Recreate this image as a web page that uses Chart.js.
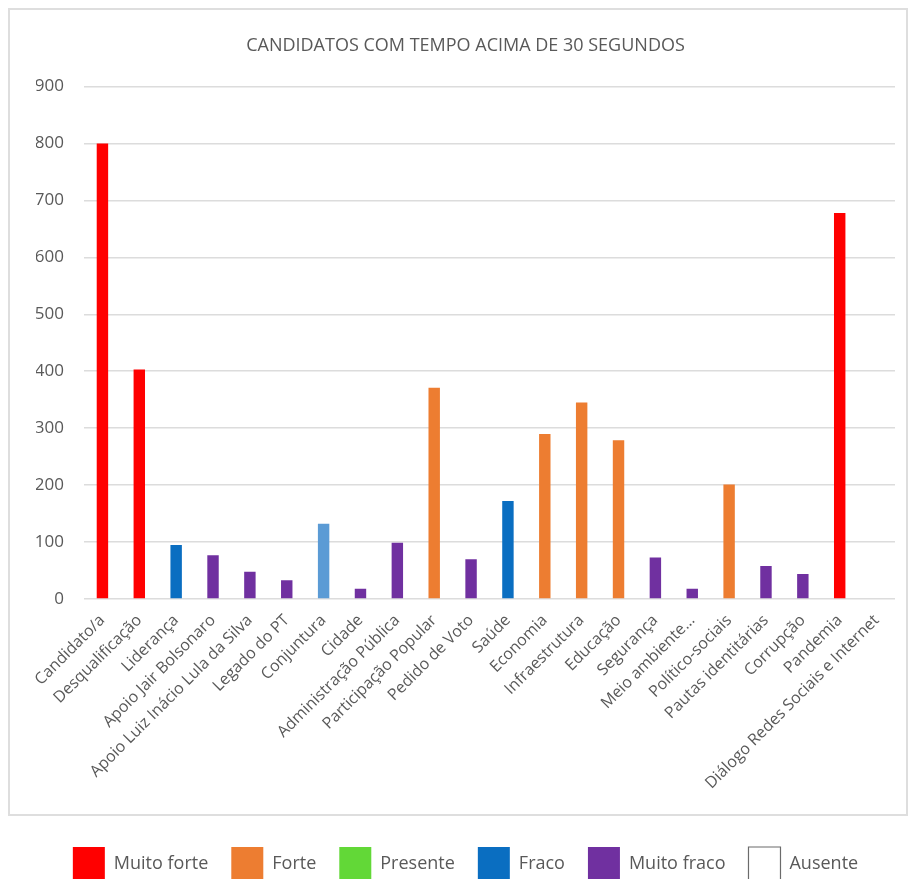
<!DOCTYPE html>
<html>
<head>
<meta charset="utf-8">
<script src="https://cdn.jsdelivr.net/npm/chart.js@4"></script>
<style>
  html, body { margin: 0; padding: 0; background: #ffffff; }
  #wrap { width: 909px; height: 879px; }
</style>
</head>
<body>
<div id="wrap"><canvas id="c" width="909" height="879"></canvas></div>
<script>
const titleText = 'CANDIDATOS COM TEMPO ACIMA DE 30 SEGUNDOS';
const categories = [
  'Candidato/a', 'Desqualificação', 'Liderança', 'Apoio Jair Bolsonaro',
  'Apoio Luiz Inácio Lula da Silva', 'Legado do PT', 'Conjuntura', 'Cidade',
  'Administração Pública', 'Participação Popular', 'Pedido de Voto', 'Saúde',
  'Economia', 'Infraestrutura', 'Educação', 'Segurança', 'Meio ambiente…',
  'Político-sociais', 'Pautas identitárias', 'Corrupção', 'Pandemia',
  'Diálogo Redes Sociais e Internet'
];
const values = [800, 403, 95, 77, 48, 33, 132, 18, 99, 371, 70, 172, 290, 345, 279, 73, 18, 201, 58, 44, 678, 0];
const levels = [
  'Muito forte', 'Muito forte', 'Fraco', 'Muito fraco', 'Muito fraco', 'Muito fraco',
  'Fraco claro', 'Muito fraco', 'Muito fraco', 'Forte', 'Muito fraco', 'Fraco',
  'Forte', 'Forte', 'Forte', 'Muito fraco', 'Muito fraco', 'Forte', 'Muito fraco',
  'Muito fraco', 'Muito forte', 'Ausente'
];
const legendLabels = ['Muito forte', 'Forte', 'Presente', 'Fraco', 'Muito fraco', 'Ausente'];
const yTicks = [0, 100, 200, 300, 400, 500, 600, 700, 800, 900];

const palette = {
  'Muito forte': '#FF0000',
  'Forte': '#ED7D31',
  'Presente': '#62D837',
  'Fraco': '#0A6EC1',
  'Fraco claro': '#5B9BD5',
  'Muito fraco': '#7030A0',
  'Ausente': '#FFFFFF'
};
const textColor = '#595959';
const gridColor = '#dcdcdc';

const frame = {
  id: 'frame',
  beforeDraw(chart) {
    const ctx = chart.ctx;
    ctx.save();
    ctx.fillStyle = '#ffffff';
    ctx.fillRect(0, 0, chart.width, chart.height);
    ctx.strokeStyle = '#dedede';
    ctx.lineWidth = 2;
    ctx.strokeRect(9, 9, 898, 806);
    ctx.restore();
  }
};

new Chart(document.getElementById('c'), {
  type: 'bar',
  data: {
    labels: categories,
    datasets: [{
      data: values,
      backgroundColor: levels.map(l => palette[l]),
      borderWidth: 0,
      categoryPercentage: 1,
      barPercentage: 0.31
    }]
  },
  options: {
    responsive: false,
    animation: false,
    devicePixelRatio: 1,
    layout: { padding: { left: 36, right: 14, top: 0, bottom: -12 } },
    plugins: {
      title: {
        display: true,
        text: titleText,
        color: textColor,
        font: { family: 'Open Sans', size: 18, weight: 'normal' },
        padding: { top: 35, bottom: 30 }
      },
      legend: {
        display: true,
        position: 'bottom',
        labels: {
          color: textColor,
          font: { family: 'Open Sans', size: 18 },
          boxWidth: 32,
          boxHeight: 34,
          padding: 23,
          generateLabels() {
            return legendLabels.map(name => ({
              text: name,
              fillStyle: palette[name],
              strokeStyle: name === 'Ausente' ? '#6b6b6b' : palette[name],
              lineWidth: name === 'Ausente' ? 1.2 : 0,
              fontColor: textColor,
              hidden: false,
              datasetIndex: 0
            }));
          }
        },
        onClick() {}
      },
      tooltip: { enabled: false }
    },
    scales: {
      x: {
        grid: { display: false, drawTicks: false },
        border: { display: false },
        ticks: {
          color: textColor,
          font: { family: 'Open Sans', size: 16 },
          maxRotation: 45,
          minRotation: 45,
          autoSkip: false,
          padding: 12
        },
        afterFit(scale) { scale.height = 225; }
      },
      y: {
        min: 0,
        max: 900,
        grid: { color: gridColor, lineWidth: 1.6, drawTicks: false },
        border: { display: false },
        afterBuildTicks(scale) { scale.ticks = yTicks.map(v => ({ value: v })); },
        ticks: {
          color: textColor,
          font: { family: 'Open Sans', size: 17 },
          padding: 20
        },
        afterFit(scale) { scale.width = 48; }
      }
    }
  },
  plugins: [frame]
});
</script>
</body>
</html>
